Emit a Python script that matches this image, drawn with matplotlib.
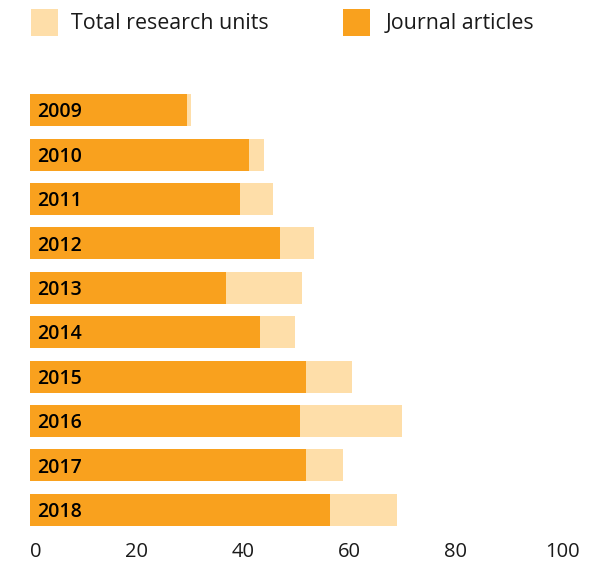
import matplotlib
matplotlib.use("Agg")
import matplotlib.pyplot as plt
from matplotlib.patches import Rectangle

years = ["2009", "2010", "2011", "2012", "2013", "2014", "2015", "2016", "2017", "2018"]
journal_articles = [29.6, 41.1, 39.4, 46.9, 36.8, 43.2, 51.8, 50.8, 51.8, 56.3]
total_research_units = [30.3, 43.9, 45.6, 53.3, 51.2, 49.9, 60.6, 70.0, 58.9, 68.9]
xticks = [0, 20, 40, 60, 80, 100]

LIGHT = "#FEDEA9"
ORANGE = "#F9A11E"
TEXT = "#1a1a1a"

plt.rcParams["font.family"] = ["Open Sans", "DejaVu Sans"]

W, H = 609, 563
fig = plt.figure(figsize=(W / 100, H / 100), dpi=100)

left, right = 30, 562
top, bottom = 88, 532
ax = fig.add_axes([left / W, 1 - bottom / H, (right - left) / W, (bottom - top) / H])

ypos = list(range(len(years)))
ax.barh(ypos, total_research_units, height=0.72, color=LIGHT, linewidth=0)
ax.barh(ypos, journal_articles, height=0.72, color=ORANGE, linewidth=0)
for y, lab in zip(ypos, years):
    ax.text(1.35, y + 0.05, lab, ha="left", va="center", fontsize=14,
            fontweight="semibold", color="black")

ax.set_xlim(0, 100)
ax.set_ylim(len(years) - 0.5, -0.5)
ax.set_xticks(xticks)
labels = ax.set_xticklabels([str(t) for t in xticks], fontsize=14.5, color=TEXT)
labels[0].set_ha("left")
ax.set_yticks([])
ax.tick_params(axis="x", length=0, pad=7)
for s in ax.spines.values():
    s.set_visible(False)

# legend drawn in figure pixel coordinates
def px_rect(x0, y0, w, h, color):
    fig.patches.append(Rectangle((x0 / W, 1 - (y0 + h) / H), w / W, h / H,
                                 transform=fig.transFigure, color=color, lw=0))

px_rect(31, 9, 27, 27, LIGHT)
fig.text(71 / W, 1 - 23.5 / H, "Total research units", ha="left", va="center",
         fontsize=15.4, color=TEXT)
px_rect(343, 9, 27, 27, ORANGE)
fig.text(386 / W, 1 - 23.5 / H, "Journal articles", ha="left", va="center",
         fontsize=15.4, color=TEXT)

fig.savefig("out.png", dpi=100)
